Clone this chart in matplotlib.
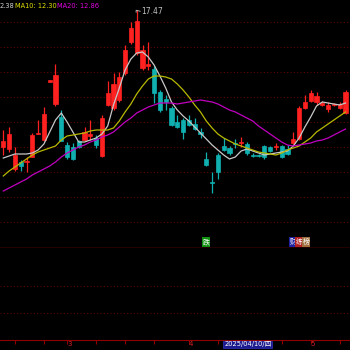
import numpy as np
import matplotlib
matplotlib.use('Agg')
import matplotlib.pyplot as plt
from matplotlib.patches import Rectangle

opens = [12.01, 11.92, 11.11, 11.41, 11.40, 11.61, 12.52, 12.28, 14.62, 13.72,
         13.21, 12.08, 11.99, 12.25, 12.28, 12.45, 12.36, 11.64, 13.68, 13.56,
         13.88, 14.96, 16.20, 15.76, 15.16, 15.24, 15.12, 14.20, 13.92, 13.56,
         13.00, 13.08, 13.08, 12.92, 12.58, 11.52, 10.62, 11.68, 12.04, 11.96,
         12.16, 12.16, 12.12, 11.68, 11.68, 12.04, 12.00, 11.98, 12.04, 11.92,
         12.16, 12.32, 13.56, 13.84, 13.80, 13.70, 13.52, 13.68, 13.56, 13.36]
closes = [12.25, 12.52, 11.68, 11.24, 11.44, 12.48, 12.56, 13.32, 14.66, 14.88,
          12.25, 11.61, 11.52, 11.99, 12.61, 12.52, 12.08, 13.16, 14.17, 14.52,
          14.80, 15.88, 16.76, 17.04, 15.88, 15.32, 14.16, 13.48, 13.80, 12.88,
          12.80, 12.60, 12.88, 12.72, 12.54, 11.28, 10.58, 11.00, 11.88, 11.76,
          12.12, 12.20, 11.76, 11.64, 11.64, 11.60, 11.84, 12.02, 11.60, 11.72,
          12.32, 13.56, 13.80, 14.16, 14.04, 13.74, 13.68, 13.70, 13.72, 14.20]
highs = [12.68, 12.81, 12.00, 11.48, 11.61, 12.56, 13.08, 13.61, 14.68, 15.32,
         13.48, 12.21, 12.16, 12.28, 12.80, 13.08, 12.48, 13.28, 14.65, 14.97,
         15.00, 16.08, 17.00, 17.47, 16.08, 16.20, 15.24, 14.28, 14.08, 13.64,
         13.28, 13.16, 13.28, 13.16, 12.76, 11.80, 11.00, 11.76, 12.36, 12.04,
         12.32, 12.40, 12.20, 11.76, 11.72, 12.08, 12.04, 12.16, 12.08, 12.08,
         12.60, 13.64, 14.08, 14.28, 14.20, 13.84, 13.80, 13.76, 13.80, 14.28]
lows = [11.68, 11.80, 11.04, 11.05, 11.01, 11.60, 12.50, 12.24, 14.60, 13.64,
        12.24, 11.51, 11.48, 11.96, 12.24, 12.28, 11.96, 11.60, 13.64, 13.48,
        13.80, 14.88, 16.12, 15.68, 15.08, 15.08, 13.76, 13.40, 13.48, 12.84,
        12.76, 12.32, 12.84, 12.68, 12.36, 11.24, 10.16, 10.72, 11.84, 11.68,
        11.96, 12.00, 11.68, 11.60, 11.60, 11.52, 11.80, 11.88, 11.56, 11.68,
        12.12, 12.28, 13.52, 13.80, 13.68, 13.64, 13.40, 13.64, 13.52, 13.32]

ma5 = [11.56, 11.64, 11.72, 11.72, 11.72, 11.76, 11.88, 12.12, 12.60, 13.08,
       13.36, 13.00, 12.60, 12.20, 12.20, 12.28, 12.36, 12.52, 12.84, 13.68,
       14.36, 15.08, 15.52, 15.76, 15.80, 15.60, 15.28, 14.84, 14.36, 13.80,
       13.48, 13.24, 13.04, 12.80, 12.56, 12.32, 12.08, 11.88, 11.68, 11.52,
       11.60, 11.84, 11.92, 11.84, 11.76, 11.68, 11.72, 11.76, 11.80, 11.84,
       12.04, 12.36, 12.80, 13.20, 13.64, 13.80, 13.76, 13.72, 13.68, 13.76]
ma10 = [10.84, 11.04, 11.20, 11.36, 11.52, 11.68, 11.80, 11.88, 11.96, 12.04,
        12.28, 12.44, 12.48, 12.52, 12.56, 12.64, 12.68, 12.68, 12.68, 12.76,
        13.04, 13.40, 13.72, 14.12, 14.44, 14.72, 14.84, 14.84, 14.80, 14.72,
        14.52, 14.28, 14.00, 13.68, 13.40, 13.04, 12.76, 12.52, 12.36, 12.24,
        12.12, 12.04, 11.96, 11.88, 11.80, 11.76, 11.72, 11.68, 11.76, 11.88,
        11.96, 12.04, 12.20, 12.36, 12.60, 12.76, 12.92, 13.08, 13.24, 13.40]
ma20 = [10.24, 10.36, 10.48, 10.60, 10.72, 10.88, 11.00, 11.12, 11.24, 11.40,
        11.60, 11.76, 11.88, 12.00, 12.08, 12.20, 12.28, 12.40, 12.48, 12.60,
        12.80, 13.00, 13.16, 13.36, 13.48, 13.60, 13.68, 13.76, 13.76, 13.76,
        13.72, 13.76, 13.80, 13.84, 13.88, 13.84, 13.80, 13.72, 13.60, 13.48,
        13.40, 13.28, 13.16, 13.04, 12.84, 12.68, 12.52, 12.36, 12.20, 12.08,
        12.04, 12.08, 12.12, 12.16, 12.24, 12.28, 12.36, 12.48, 12.60, 12.72]

month_pos = [11, 32, 53]
month_labels = ['3', '4', '5']
week_ticks = [2, 7, 11, 16, 21, 26, 32, 37, 43, 48, 53, 58]
cursor_pos = 38
cursor_label = '2025/04/10/四'
header = [('2.38', '#d0d0d0'), ('MA10: 12.30', '#e0e000'), ('MA20: 12.86', '#e000e0')]

UP = '#ff2020'
DOWN = '#10b0b0'
GRID = '#5a0000'

fig = plt.figure(figsize=(3.5, 3.5), dpi=100, facecolor='black')
xmin = -3.3 / 5.8
xmax = xmin + 350 / 5.8

# main price panel
ax = fig.add_axes([0, 102 / 350, 1, 248 / 350], facecolor='black')
ax.set_xlim(xmin, xmax)
ax.set_ylim(7.96, 17.88)
for p in range(9, 18):
    ax.axhline(p, color=GRID, lw=0.8, ls=(0, (1, 2)), zorder=0)

x = np.arange(len(opens))
for i in x:
    o, c, h, l = opens[i], closes[i], highs[i], lows[i]
    col = UP if c >= o else DOWN
    ax.vlines(i, l, h, color=col, lw=0.9, zorder=2)
    bot = min(o, c)
    ht = max(abs(c - o), 0.03)
    ax.add_patch(Rectangle((i - 0.36, bot), 0.72, ht, facecolor=col,
                           edgecolor=col, lw=0.5, zorder=3))

ax.plot(x, ma5, color='#c8c8c8', lw=0.9, zorder=4)
ax.plot(x, ma10, color='#b8b800', lw=0.9, zorder=4)
ax.plot(x, ma20, color='#c000c0', lw=0.9, zorder=4)

# high marker
hi = int(np.argmax(highs))
ax.plot([hi - 0.1, hi - 0.1, hi + 0.6], [highs[hi] - 0.08, highs[hi], highs[hi] - 0.04],
        color='#c0c0c0', lw=0.6, zorder=5)
ax.text(hi + 0.7, highs[hi] - 0.05, f'{highs[hi]:.2f}', color='#c0c0c0',
        fontsize=5.5, va='center', ha='left')

ax.set_xticks([])
ax.set_yticks([])
for s in ['top', 'left', 'right']:
    ax.spines[s].set_visible(False)
ax.spines['bottom'].set_color('#b00000')
ax.spines['bottom'].set_linewidth(1.0)

# header text
xs = [0.0, 15 / 350, 57 / 350]
for (t, c), xx in zip(header, xs):
    fig.text(xx, 1 - 5.5 / 350, t, color=c, fontsize=4.8, va='center', ha='left')

# event markers
ax.text(35, 8.2, '跌', color='white', fontsize=5, ha='center', va='center',
        family=['Noto Sans CJK SC'], bbox=dict(boxstyle='square,pad=0.1', fc='#109010', ec='none'))
for k, (t, fc) in enumerate([('财', '#2020a0'), ('练', '#b02020'), ('榜', '#a07040')]):
    ax.text(50 + k * 1.1, 8.2, t, color='white', fontsize=5, ha='center', va='center',
            family=['Noto Sans CJK SC'], bbox=dict(boxstyle='square,pad=0.1', fc=fc, ec='none'))

# lower panel
ax2 = fig.add_axes([0, 10 / 350, 1, 92 / 350], facecolor='black')
ax2.set_xlim(xmin, xmax)
ax2.set_ylim(0, 1)
for f in [(340 - 286) / 92, (340 - 313) / 92]:
    ax2.axhline(f, color=GRID, lw=0.8, ls=(0, (1, 2)))
for s in ['top', 'left', 'right']:
    ax2.spines[s].set_visible(False)
ax2.spines['bottom'].set_color('#900000')
ax2.set_yticks([])
ax2.set_xticks(week_ticks)
ax2.set_xticklabels([])
ax2.tick_params(axis='x', colors='#900000', length=3, width=0.8, direction='out')

for p, t in zip(month_pos, month_labels):
    ax2.text(p, -0.015, t, color='#d02020', fontsize=5, ha='left', va='top')
ax2.text(cursor_pos + 0.1, -0.015, cursor_label, color='white', fontsize=4.8, ha='left', va='top',
         family=['DejaVu Sans', 'Noto Sans CJK SC'],
         bbox=dict(boxstyle='square,pad=0.12', fc='#1c1c90', ec='#3030c0', lw=0.5))

fig.savefig('out.png', dpi=100, facecolor='black')
